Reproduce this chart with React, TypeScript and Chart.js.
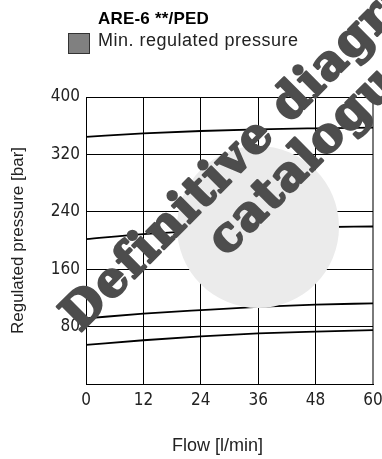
import React, { useEffect, useRef } from "react";
import { Chart, registerables } from "chart.js";

Chart.register(...registerables);

const TITLE = "ARE-6 **/PED";
const LEGEND_LABEL = "Min. regulated pressure";
const X_TITLE = "Flow [l/min]";
const Y_TITLE = "Regulated pressure [bar]";
const WATERMARK_1 = "Definitive diagram in";
const WATERMARK_2 = "catalogue";

const flow = [0, 12, 24, 36, 48, 60];
const curve1 = [344.5, 349.3, 352.6, 355, 356.3, 357.2];
const curve2 = [202, 209, 213.5, 216.5, 218.5, 219.5];
const curve3 = [91.5, 98, 103, 107.5, 110.5, 112.5];
const curve4 = [54.5, 61, 66.5, 70.5, 73, 75];
const xTicks = [0, 12, 24, 36, 48, 60];
const yTicks = [0, 80, 160, 240, 320, 400];

const SANS = '"Liberation Sans", Arial, Helvetica, sans-serif';
const NARROW = '"Liberation Sans Narrow", "DejaVu Sans Condensed", "Liberation Sans", sans-serif';

const overlay = {
  id: "overlay",
  afterDraw(chart: any) {
    const ctx: CanvasRenderingContext2D = chart.ctx;
    ctx.save();
    ctx.textAlign = "left";
    ctx.textBaseline = "alphabetic";
    // title
    ctx.fillStyle = "#000";
    ctx.font = "bold 17px " + SANS;
    (ctx as any).letterSpacing = "0.2px";
    ctx.fillText(TITLE, 98, 24);
    // legend
    ctx.fillStyle = "#808080";
    ctx.fillRect(68.5, 33.5, 21, 20);
    ctx.strokeStyle = "#333";
    ctx.lineWidth = 1;
    ctx.strokeRect(68.5, 33.5, 21, 20);
    ctx.fillStyle = "#222";
    ctx.font = "18px " + SANS;
    (ctx as any).letterSpacing = "0.5px";
    ctx.fillText(LEGEND_LABEL, 98, 46);
    // x title
    (ctx as any).letterSpacing = "0px";
    ctx.textAlign = "center";
    ctx.font = "18px " + SANS;
    ctx.fillText(X_TITLE, 217.5, 451);
    // circle
    ctx.fillStyle = "#ebebeb";
    ctx.beginPath();
    ctx.arc(258, 227, 81, 0, Math.PI * 2);
    ctx.fill();
    // watermark
    ctx.fillStyle = "#4d4d4d";
    ctx.strokeStyle = "#4d4d4d";
    ctx.lineWidth = 2.4;
    ctx.lineJoin = "round";
    ctx.font = 'bold 48px "DejaVu Serif", serif';
    (ctx as any).letterSpacing = "1.5px";
    ctx.textAlign = "left";
    ctx.translate(80, 333);
    ctx.rotate(-Math.PI / 4);
    ctx.fillText(WATERMARK_1, 0, 0);
    ctx.strokeText(WATERMARK_1, 0, 0);
    ctx.fillText(WATERMARK_2, 157, 50);
    ctx.strokeText(WATERMARK_2, 157, 50);
    ctx.restore();
  },
};

export default function App() {
  const ref = useRef<HTMLCanvasElement>(null);
  useEffect(() => {
    if (!ref.current) return;
    const mk = (vals: number[]) => ({
      data: flow.map((x, i) => ({ x, y: vals[i] })),
      borderColor: "#000",
      borderWidth: 1.8,
      pointRadius: 0,
      fill: false,
      cubicInterpolationMode: "monotone" as const,
    });
    const chart = new Chart(ref.current, {
      type: "line",
      data: {
        datasets: [mk(curve1), mk(curve2), mk(curve3), mk(curve4)],
      },
      options: {
        responsive: false,
        animation: false,
        layout: { padding: { top: 97, right: 9, left: 0, bottom: 0 } },
        plugins: {
          legend: { display: false },
          title: { display: false },
          tooltip: { enabled: false },
        },
        scales: {
          x: {
            type: "linear",
            min: 0,
            max: 60,
            afterFit: (s: any) => {
              s.height = 75;
              s.paddingRight = 0;
              s.paddingLeft = 0;
            },
            afterBuildTicks: (s: any) => {
              s.ticks = xTicks.map((v) => ({ value: v }));
            },
            ticks: {
              font: { family: NARROW, size: 17 },
              color: "#222",
              padding: 6,
              maxRotation: 0,
            },
            grid: {
              drawTicks: false,
              color: (c: any) => (c.tick && c.tick.value === 60 ? "#7a7a7a" : "#000"),
              lineWidth: (c: any) => (c.tick && c.tick.value === 60 ? 2 : 1),
            },
            border: { color: "#000", width: 1 },
            title: { display: false },
          },
          y: {
            min: 0,
            max: 400,
            afterFit: (s: any) => {
              s.width = 86;
            },
            afterBuildTicks: (s: any) => {
              s.ticks = yTicks.map((v) => ({ value: v }));
            },
            ticks: {
              font: { family: NARROW, size: 17 },
              color: "#222",
              padding: 6,
              callback: (v: any) => (Number(v) === 0 ? "" : String(v)),
            },
            grid: { drawTicks: false, color: "#000", lineWidth: 1 },
            border: { color: "#000", width: 1 },
            title: {
              display: true,
              text: Y_TITLE,
              font: { family: SANS, size: 17 },
              color: "#222",
              padding: { top: 8, bottom: 0 },
            },
          },
        },
      },
      plugins: [overlay],
    });
    return () => chart.destroy();
  }, []);
  return (
    <div style={{ position: "fixed", left: 0, top: 0, width: 382, height: 459, background: "#fff" }}>
      <canvas ref={ref} width={382} height={459} />
    </div>
  );
}
